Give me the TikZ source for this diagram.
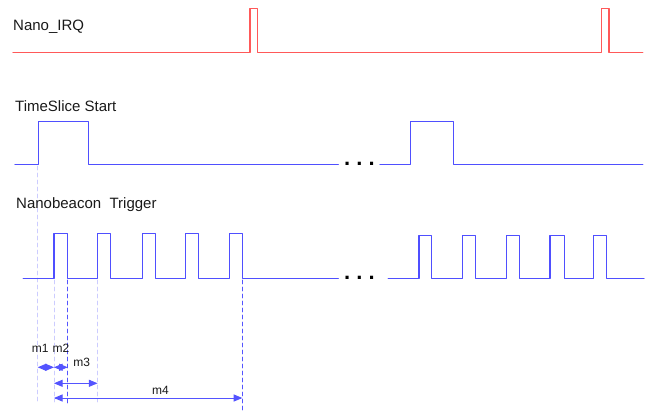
\documentclass[tikz,border=0pt]{standalone}
\usepackage{fontspec}
\setmainfont{Liberation Sans}
\usepackage{tikz}
\usetikzlibrary{arrows}
\definecolor{ffuuuu}{rgb}{1.,0.35,0.35}
\definecolor{uuuuff}{rgb}{0.31,0.31,1.}
\definecolor{ccccff}{rgb}{0.8,0.8,1.}
\definecolor{qquuff}{rgb}{0.33,0.33,1.}
\definecolor{tttttt}{rgb}{0.1,0.1,0.1}

\begin{document}
\begin{tikzpicture}[line cap=round,line join=round,>=triangle 45,x=1pt,y=-1pt]
\useasboundingbox (0,0) rectangle (649,412);
\tikzset{lbl/.style={anchor=base west,inner sep=0pt,color=tttttt,font=\fontsize{15}{15}\selectfont},
  mlbl/.style={anchor=base,inner sep=0pt,color=tttttt,font=\fontsize{12}{12}\selectfont},
  guide/.style={color=ccccff,line width=0.9pt,dash pattern=on 4pt off 3pt},
  markline/.style={color=qquuff,line width=0.9pt,dash pattern=on 4pt off 3pt}}
% guide lines
\draw[guide] (37.7,166) -- (37.7,402);
\draw[guide] (54,280) -- (54,402);
\draw[guide] (97.5,280) -- (97.5,402);
\draw[markline] (67.7,280) -- (67.7,404);
\draw[markline] (242.3,280) -- (242.3,412);
% Nano_IRQ
\draw[color=ffuuuu,line width=1.4pt] (13,52.7) -- (250,52.7) -- (250,8.5) -- (257.3,8.5) -- (257.3,52.7) -- (601.7,52.7) -- (601.7,8.5) -- (609,8.5) -- (609,52.7) -- (642.7,52.7);
\draw (13,30.5) node[lbl] (irq) {Nano\_IRQ};
% TimeSlice Start
\draw[color=uuuuff,line width=1.4pt] (15,164.3) -- (38.5,164.3) -- (38.5,121.7) -- (88.3,121.7) -- (88.3,164.3) -- (338.3,164.3);
\draw[color=uuuuff,line width=1.4pt] (380,164.3) -- (410.7,164.3) -- (410.7,121.7) -- (453.3,121.7) -- (453.3,164.3) -- (642.7,164.3);
\draw (15,111.4) node[lbl] (tss) {TimeSlice Start};
\draw (359.5,164.3) node[inner sep=0pt,font=\fontsize{22}{22}\selectfont\bfseries] (dots1) {.\ .\ .};
% Nanobeacon Trigger
\draw[color=uuuuff,line width=1.4pt] (23.3,278.3) -- (54,278.3) -- (54,233.7) -- (67.7,233.7) -- (67.7,278.3) -- (97.7,278.3) -- (97.7,233.7) -- (110.3,233.7) -- (110.3,278.3) -- (142.3,278.3) -- (142.3,233.7) -- (155.3,233.7) -- (155.3,278.3) -- (185.7,278.3) -- (185.7,233.7) -- (198.7,233.7) -- (198.7,278.3) -- (229.3,278.3) -- (229.3,233.7) -- (242.3,233.7) -- (242.3,278.3) -- (338.3,278.3);
\draw[color=uuuuff,line width=1.4pt] (388.3,278.3) -- (419,278.3) -- (419,235.3) -- (431.7,235.3) -- (431.7,278.3) -- (462.7,278.3) -- (462.7,235.3) -- (475.7,235.3) -- (475.7,278.3) -- (506.7,278.3) -- (506.7,235.3) -- (519.3,235.3) -- (519.3,278.3) -- (550,278.3) -- (550,235.3) -- (564.3,235.3) -- (564.3,278.3) -- (593.3,278.3) -- (593.3,235.3) -- (606.7,235.3) -- (606.7,278.3) -- (644,278.3);
\draw (16,208) node[lbl] (nbt) {Nanobeacon\ \ Trigger};
\draw (359.5,278.3) node[inner sep=0pt,font=\fontsize{22}{22}\selectfont\bfseries] (dots2) {.\ .\ .};
% measurements
\coordinate (a1) at (37.7,367.3);
\coordinate (a2) at (54,367.3);
\coordinate (a3) at (67.7,367.3);
\coordinate (b1) at (54,383.3);
\coordinate (b2) at (97.5,383.3);
\coordinate (c1) at (54,398);
\coordinate (c2) at (242.3,398);
\draw[<->,color=qquuff,line width=1pt] (a1) -- (a2);
\draw[<->,color=qquuff,line width=1pt] (a2) -- (a3);
\draw[<->,color=qquuff,line width=1pt] (b1) -- (b2);
\draw[<->,color=qquuff,line width=1pt] (c1) -- (c2);
\draw (40.3,352.3) node[mlbl] (m1) {m1};
\draw (61,352.3) node[mlbl] (m2) {m2};
\draw (81.8,366.7) node[mlbl] (m3) {m3};
\draw (160.5,394.3) node[mlbl] (m4) {m4};
\end{tikzpicture}
\end{document}
